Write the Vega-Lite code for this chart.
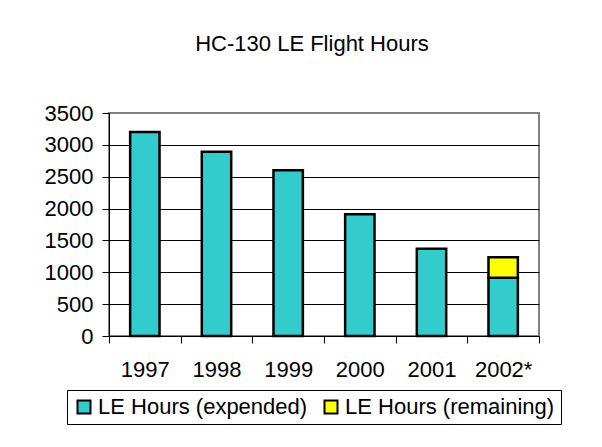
{
  "$schema": "https://vega.github.io/schema/vega-lite/v6.json",
  "autosize": "none",
  "padding": {"left": 109, "top": 113, "right": 63, "bottom": 111},
  "width": 430,
  "height": 223,
  "background": "white",
  "title": {
    "text": "HC-130 LE Flight Hours",
    "font": "Liberation Sans",
    "fontSize": 22,
    "fontWeight": "normal",
    "color": "black",
    "anchor": "middle",
    "frame": "group",
    "baseline": "alphabetic",
    "offset": 29,
    "dx": -12
  },
  "data": {
    "values": [
      {"year": "1997", "series": "LE Hours (expended)", "order": 1, "hours": 3200},
      {"year": "1998", "series": "LE Hours (expended)", "order": 1, "hours": 2890},
      {"year": "1999", "series": "LE Hours (expended)", "order": 1, "hours": 2600},
      {"year": "2000", "series": "LE Hours (expended)", "order": 1, "hours": 1910},
      {"year": "2001", "series": "LE Hours (expended)", "order": 1, "hours": 1370},
      {"year": "2002*", "series": "LE Hours (expended)", "order": 1, "hours": 915},
      {"year": "2002*", "series": "LE Hours (remaining)", "order": 2, "hours": 320}
    ]
  },
  "mark": {"type": "bar", "width": {"band": 0.41}, "stroke": "black", "strokeWidth": 2.5},
  "encoding": {
    "x": {
      "field": "year",
      "type": "nominal",
      "sort": null,
      "scale": {"paddingInner": 0, "paddingOuter": 0},
      "axis": {
        "title": null,
        "labelAngle": 0,
        "tickBand": "extent",
        "tickSize": 7,
        "labelPadding": 16,
        "domainColor": "black",
        "tickColor": "black",
        "labelFont": "Liberation Sans",
        "labelFontSize": 22,
        "labelColor": "black"
      }
    },
    "y": {
      "field": "hours",
      "type": "quantitative",
      "stack": "zero",
      "scale": {"domain": [0, 3500], "nice": false},
      "axis": {
        "title": null,
        "values": [0, 500, 1000, 1500, 2000, 2500, 3000, 3500],
        "format": "d",
        "tickSize": 7,
        "labelPadding": 9,
        "domainColor": "black",
        "tickColor": "black",
        "grid": true,
        "gridColor": {"condition": {"test": "datum.value === 3500", "value": "#808080"}, "value": "black"},
        "gridWidth": 1,
        "gridOpacity": 1,
        "labelFont": "Liberation Sans",
        "labelFontSize": 22,
        "labelColor": "black"
      }
    },
    "color": {
      "field": "series",
      "type": "nominal",
      "scale": {"domain": ["LE Hours (expended)", "LE Hours (remaining)"], "range": ["#33CCCC", "#FFFF00"]},
      "legend": {
        "title": null,
        "orient": "none",
        "legendX": -42,
        "legendY": 277,
        "direction": "horizontal",
        "symbolType": "square",
        "symbolSize": 169,
        "symbolStrokeColor": "black",
        "symbolStrokeWidth": 2,
        "symbolOpacity": 1,
        "labelFont": "Liberation Sans",
        "labelFontSize": 22,
        "labelColor": "black",
        "labelLimit": 0,
        "labelOffset": 3,
        "columnPadding": 12,
        "padding": 6,
        "strokeColor": "black",
        "fillColor": "white"
      }
    },
    "order": {"field": "order", "type": "quantitative"}
  },
  "config": {
    "view": {"stroke": "#808080", "strokeWidth": 2}
  }
}
